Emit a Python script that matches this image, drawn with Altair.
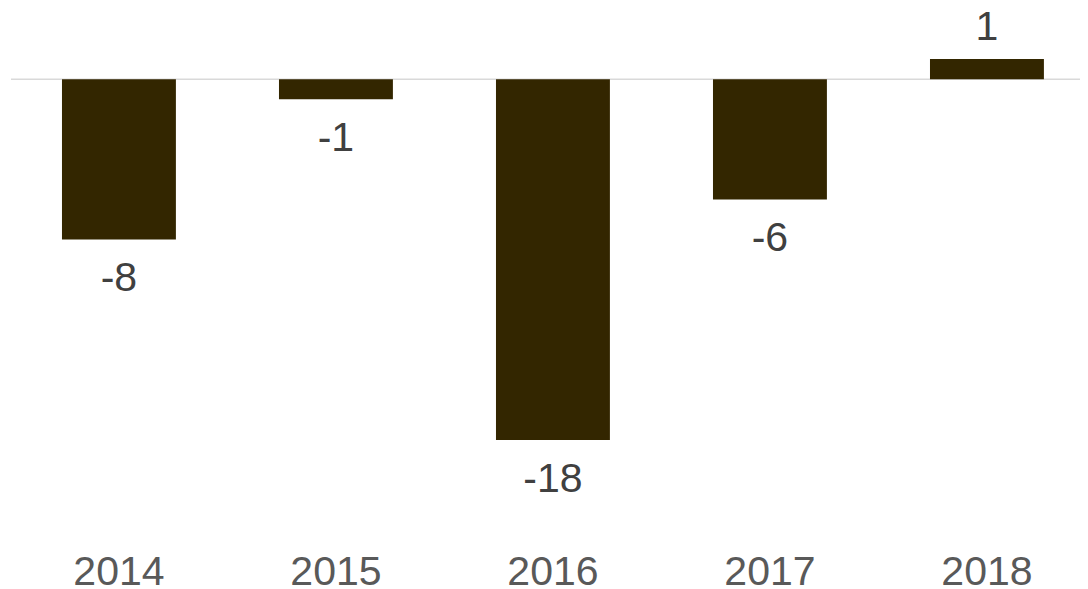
import altair as alt
import pandas as pd

years = ["2014", "2015", "2016", "2017", "2018"]
values = [-8, -1, -18, -6, 1]

df = pd.DataFrame({"year": years, "value": values})

FONT = "Liberation Sans"

x = alt.X("year:N", sort=years,
          scale=alt.Scale(paddingInner=0.475, paddingOuter=0.2006, align=0.5855),
          axis=alt.Axis(title=None, labelAngle=0, domain=False, ticks=False,
                        labelFontSize=41, labelColor="#595959", labelFont=FONT,
                        labelPadding=72))
yscale = alt.Scale(domain=[-20, 3], nice=False, zero=False)
y = alt.Y("value:Q", scale=yscale, axis=None)

base = alt.Chart(df).transform_calculate(label="'' + datum.value")

bars = base.mark_bar(color="#332600").encode(x=x, y=y, y2=alt.datum(0))

zero = alt.Chart(pd.DataFrame({"z": [0]})).mark_rule(color="#d9d9d9", strokeWidth=1.5).encode(
    y=alt.Y("z:Q", scale=yscale, axis=None))

neg = base.transform_filter("datum.value < 0").mark_text(
    baseline="top", dy=20, fontSize=41, color="#404040", font=FONT
).encode(x=x, y=y, text="label:N")

pos = base.transform_filter("datum.value >= 0").mark_text(
    baseline="alphabetic", dy=-19, fontSize=41, color="#404040", font=FONT
).encode(x=x, y=y, text="label:N")

chart = alt.layer(zero, bars, neg, pos).properties(
    width=1069, height=461,
    autosize=alt.AutoSizeParams(type="none"),
    padding={"left": 3, "top": 11, "right": 0, "bottom": 112},
).configure_view(stroke=None)

chart.save("out.html", embed_options={"renderer": "svg", "actions": False})
